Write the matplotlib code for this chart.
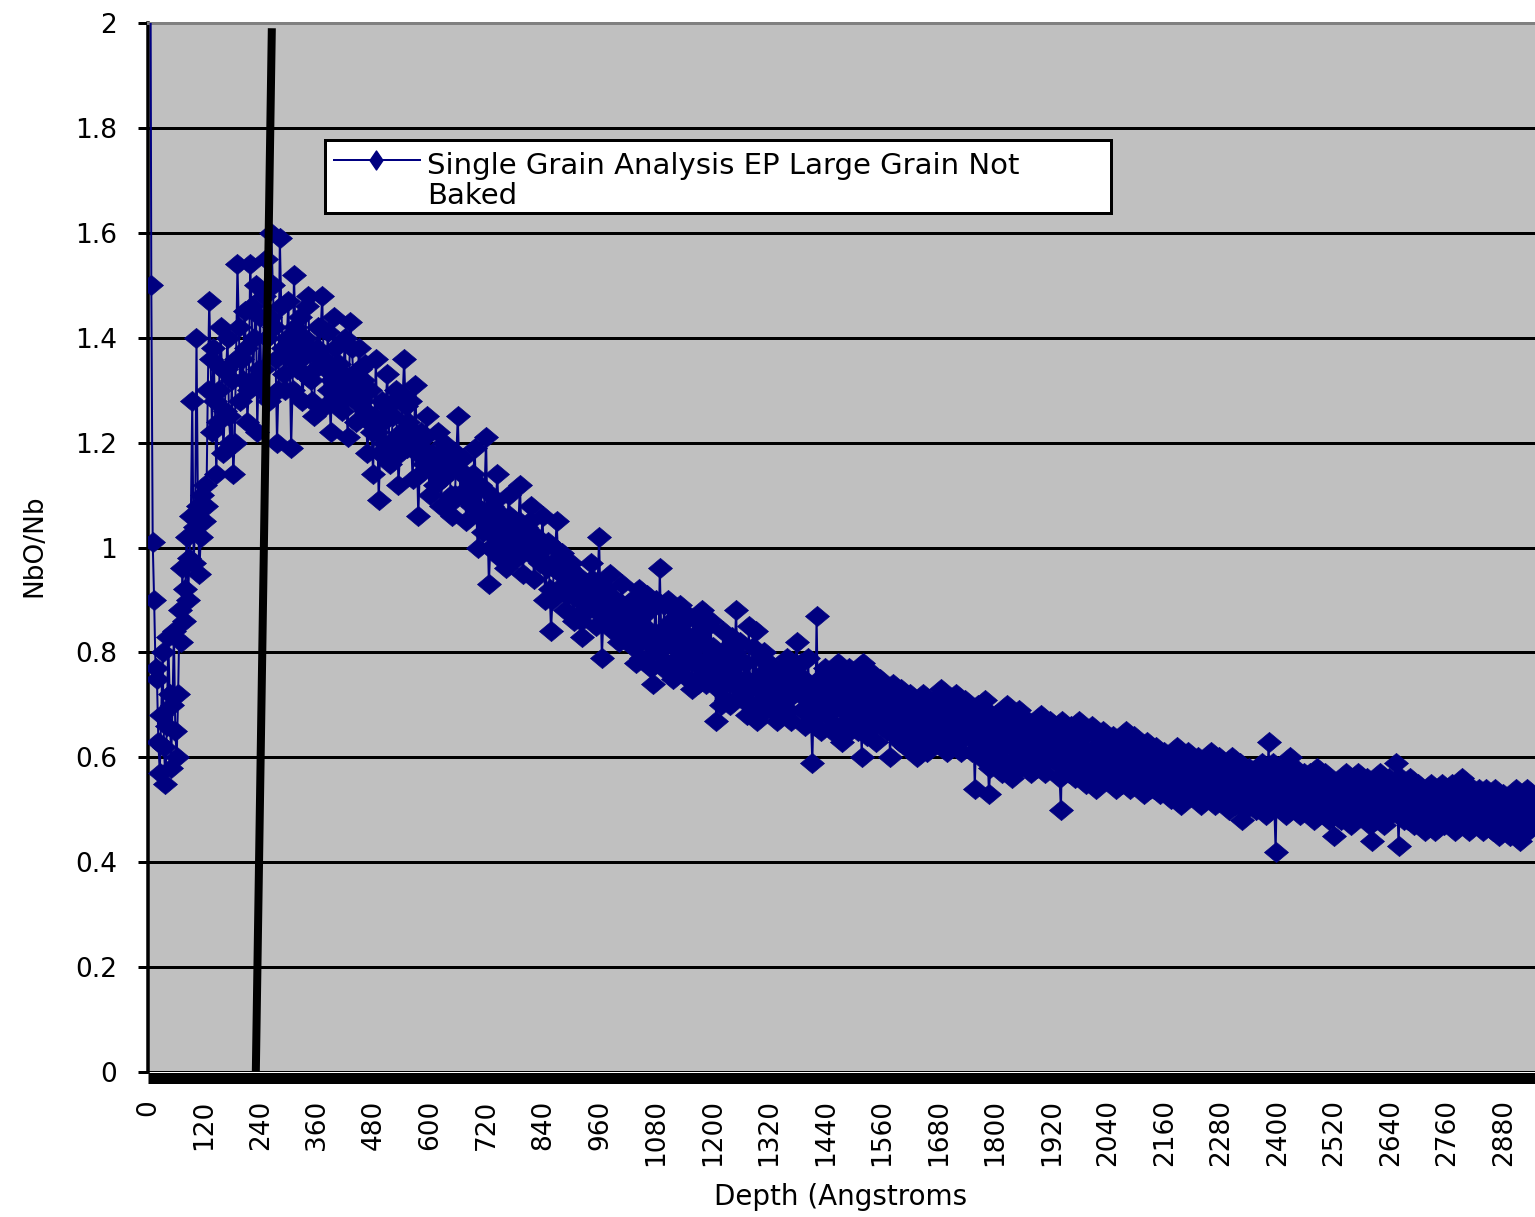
import numpy as np
import matplotlib
matplotlib.use("Agg")
import matplotlib.pyplot as plt
from matplotlib.lines import Line2D
from matplotlib.patches import Rectangle

# NbO/Nb ratio sampled every 3 Angstroms of sputter depth (20 values per row = 60 A)
depth_start = 4.0
depth_step = 3.0
ratio = [
    2.60, 1.50, 1.01, 0.90, 0.77, 0.75, 0.63, 0.57, 0.68, 0.80, 0.62, 0.55, 0.66, 0.83, 0.72, 0.58, 0.70, 0.84, 0.65, 0.60,
    0.72, 0.88, 0.82, 0.96, 0.86, 0.92, 1.02, 0.90, 0.98, 1.06, 1.28, 0.97, 1.04, 1.40, 1.08, 0.95, 1.02, 1.10, 1.05, 1.12,
    1.08, 1.30, 1.47, 1.36, 1.22, 1.38, 1.28, 1.14, 1.24, 1.30, 1.42, 1.34, 1.18, 1.26, 1.34, 1.40, 1.25, 1.20, 1.32, 1.14,
    1.20, 1.36, 1.54, 1.42, 1.28, 1.36, 1.32, 1.45, 1.38, 1.24, 1.30, 1.54, 1.46, 1.32, 1.40, 1.50, 1.22, 1.34, 1.44, 1.30,
    1.34, 1.48, 1.55, 1.40, 1.28, 1.44, 1.60, 1.50, 1.42, 1.36, 1.20, 1.30, 1.59, 1.46, 1.38, 1.33, 1.30, 1.40, 1.47, 1.36,
    1.19, 1.30, 1.52, 1.42, 1.34, 1.38, 1.44, 1.36, 1.28, 1.33, 1.40, 1.46, 1.48, 1.38, 1.32, 1.28, 1.25, 1.34, 1.38, 1.42,
    1.36, 1.42, 1.48, 1.36, 1.27, 1.34, 1.41, 1.30, 1.22, 1.32, 1.44, 1.38, 1.31, 1.28, 1.35, 1.30, 1.26, 1.33, 1.40, 1.30,
    1.21, 1.32, 1.43, 1.38, 1.33, 1.28, 1.24, 1.31, 1.38, 1.34, 1.28, 1.32, 1.35, 1.26, 1.18, 1.24, 1.30, 1.22, 1.14, 1.25,
    1.36, 1.22, 1.09, 1.18, 1.28, 1.24, 1.20, 1.27, 1.33, 1.25, 1.16, 1.20, 1.25, 1.28, 1.30, 1.21, 1.12, 1.18, 1.22, 1.29,
    1.36, 1.27, 1.19, 1.24, 1.28, 1.20, 1.13, 1.22, 1.31, 1.18, 1.06, 1.14, 1.22, 1.19, 1.16, 1.21, 1.25, 1.17, 1.10, 1.15,
    1.18, 1.15, 1.12, 1.17, 1.22, 1.14, 1.08, 1.13, 1.20, 1.16, 1.14, 1.19, 1.16, 1.10, 1.06, 1.09, 1.10, 1.18, 1.25, 1.15,
    1.10, 1.14, 1.17, 1.11, 1.05, 1.09, 1.13, 1.10, 1.08, 1.14, 1.19, 1.08, 1.00, 1.06, 1.12, 1.07, 1.03, 1.11, 1.21, 1.05,
    0.93, 1.00, 1.08, 1.05, 1.02, 1.09, 1.14, 1.05, 0.98, 1.03, 1.06, 1.00, 0.96, 1.04, 1.10, 1.06, 1.01, 0.99, 1.04, 1.01,
    0.98, 1.05, 1.12, 1.03, 0.95, 1.00, 1.04, 1.02, 1.00, 1.05, 1.08, 1.00, 0.94, 0.98, 1.02, 0.99, 0.97, 1.01, 1.06, 0.97,
    0.90, 0.96, 1.01, 0.92, 0.84, 0.90, 0.96, 1.00, 1.05, 0.98, 0.92, 0.95, 0.99, 0.93, 0.88, 0.91, 0.94, 0.96, 0.97, 0.91,
    0.86, 0.91, 0.95, 0.92, 0.90, 0.86, 0.83, 0.88, 0.93, 0.90, 0.88, 0.92, 0.97, 0.94, 0.91, 0.88, 0.85, 0.93, 1.02, 0.90,
    0.79, 0.86, 0.92, 0.89, 0.87, 0.91, 0.95, 0.89, 0.84, 0.87, 0.90, 0.86, 0.82, 0.88, 0.93, 0.89, 0.86, 0.88, 0.89, 0.84,
    0.84, 0.90, 0.81, 0.87, 0.78, 0.86, 0.92, 0.82, 0.79, 0.89, 0.85, 0.78, 0.91, 0.82, 0.88, 0.77, 0.74, 0.83, 0.90, 0.80,
    0.80, 0.96, 0.84, 0.77, 0.89, 0.82, 0.78, 0.90, 0.83, 0.86, 0.75, 0.81, 0.88, 0.79, 0.85, 0.89, 0.77, 0.83, 0.86, 0.80,
    0.83, 0.75, 0.87, 0.80, 0.73, 0.82, 0.78, 0.86, 0.74, 0.84, 0.78, 0.88, 0.76, 0.82, 0.74, 0.85, 0.79, 0.86, 0.77, 0.81,
    0.76, 0.67, 0.73, 0.79, 0.70, 0.78, 0.84, 0.74, 0.71, 0.81, 0.77, 0.70, 0.83, 0.74, 0.80, 0.88, 0.78, 0.75, 0.82, 0.72,
    0.71, 0.78, 0.75, 0.68, 0.85, 0.73, 0.70, 0.81, 0.74, 0.84, 0.67, 0.73, 0.79, 0.71, 0.76, 0.80, 0.69, 0.75, 0.78, 0.72,
    0.75, 0.69, 0.77, 0.73, 0.67, 0.74, 0.71, 0.77, 0.68, 0.76, 0.71, 0.79, 0.69, 0.74, 0.67, 0.76, 0.72, 0.78, 0.82, 0.73,
    0.72, 0.78, 0.69, 0.75, 0.66, 0.73, 0.79, 0.70, 0.67, 0.59, 0.72, 0.66, 0.87, 0.69, 0.75, 0.65, 0.74, 0.71, 0.77, 0.68,
    0.68, 0.75, 0.72, 0.65, 0.77, 0.70, 0.66, 0.78, 0.71, 0.74, 0.63, 0.69, 0.76, 0.67, 0.73, 0.77, 0.65, 0.71, 0.74, 0.68,
    0.72, 0.65, 0.75, 0.69, 0.60, 0.78, 0.67, 0.74, 0.64, 0.73, 0.68, 0.76, 0.66, 0.71, 0.63, 0.73, 0.68, 0.75, 0.66, 0.70,
    0.67, 0.72, 0.65, 0.70, 0.60, 0.69, 0.74, 0.66, 0.64, 0.71, 0.68, 0.63, 0.73, 0.65, 0.70, 0.62, 0.69, 0.67, 0.72, 0.64,
    0.64, 0.70, 0.68, 0.60, 0.71, 0.66, 0.63, 0.72, 0.67, 0.69, 0.61, 0.65, 0.70, 0.64, 0.68, 0.71, 0.63, 0.67, 0.69, 0.65,
    0.73, 0.62, 0.71, 0.66, 0.61, 0.67, 0.64, 0.70, 0.62, 0.69, 0.65, 0.72, 0.63, 0.68, 0.61, 0.70, 0.65, 0.71, 0.64, 0.67,
    0.64, 0.69, 0.61, 0.66, 0.54, 0.65, 0.70, 0.62, 0.60, 0.67, 0.64, 0.71, 0.69, 0.62, 0.53, 0.58, 0.65, 0.63, 0.68, 0.60,
    0.60, 0.67, 0.64, 0.57, 0.69, 0.62, 0.59, 0.70, 0.63, 0.66, 0.56, 0.62, 0.68, 0.60, 0.65, 0.69, 0.58, 0.64, 0.67, 0.61,
    0.64, 0.58, 0.67, 0.62, 0.57, 0.63, 0.60, 0.66, 0.58, 0.65, 0.61, 0.68, 0.59, 0.64, 0.57, 0.66, 0.61, 0.67, 0.60, 0.63,
    0.61, 0.66, 0.59, 0.63, 0.56, 0.50, 0.67, 0.60, 0.57, 0.65, 0.62, 0.57, 0.66, 0.59, 0.64, 0.56, 0.63, 0.60, 0.67, 0.58,
    0.58, 0.64, 0.61, 0.55, 0.65, 0.59, 0.56, 0.66, 0.60, 0.62, 0.54, 0.59, 0.64, 0.57, 0.62, 0.65, 0.56, 0.61, 0.63, 0.58,
    0.61, 0.55, 0.64, 0.59, 0.54, 0.60, 0.57, 0.63, 0.55, 0.62, 0.58, 0.65, 0.56, 0.61, 0.54, 0.63, 0.58, 0.64, 0.57, 0.60,
    0.58, 0.62, 0.55, 0.60, 0.53, 0.59, 0.63, 0.56, 0.54, 0.61, 0.58, 0.54, 0.62, 0.56, 0.60, 0.53, 0.59, 0.57, 0.61, 0.55,
    0.54, 0.60, 0.58, 0.52, 0.61, 0.56, 0.53, 0.62, 0.57, 0.59, 0.51, 0.55, 0.60, 0.54, 0.58, 0.61, 0.53, 0.57, 0.59, 0.55,
    0.58, 0.52, 0.60, 0.56, 0.51, 0.57, 0.54, 0.59, 0.52, 0.58, 0.54, 0.61, 0.53, 0.57, 0.51, 0.59, 0.55, 0.60, 0.53, 0.56,
    0.55, 0.59, 0.52, 0.57, 0.50, 0.56, 0.60, 0.53, 0.51, 0.58, 0.55, 0.51, 0.59, 0.48, 0.57, 0.50, 0.56, 0.54, 0.58, 0.52,
    0.52, 0.57, 0.55, 0.50, 0.58, 0.54, 0.51, 0.59, 0.54, 0.56, 0.49, 0.53, 0.63, 0.52, 0.56, 0.59, 0.51, 0.42, 0.57, 0.53,
    0.55, 0.50, 0.58, 0.53, 0.49, 0.54, 0.52, 0.60, 0.50, 0.56, 0.52, 0.58, 0.51, 0.55, 0.49, 0.56, 0.53, 0.57, 0.51, 0.54,
    0.53, 0.57, 0.50, 0.55, 0.48, 0.54, 0.58, 0.51, 0.49, 0.56, 0.53, 0.49, 0.57, 0.51, 0.55, 0.48, 0.54, 0.52, 0.45, 0.50,
    0.50, 0.55, 0.53, 0.48, 0.56, 0.52, 0.49, 0.57, 0.52, 0.54, 0.47, 0.51, 0.56, 0.50, 0.54, 0.57, 0.49, 0.53, 0.55, 0.51,
    0.54, 0.48, 0.56, 0.52, 0.47, 0.44, 0.50, 0.55, 0.48, 0.54, 0.50, 0.57, 0.49, 0.53, 0.47, 0.55, 0.51, 0.56, 0.49, 0.52,
    0.51, 0.55, 0.59, 0.53, 0.43, 0.52, 0.56, 0.50, 0.48, 0.54, 0.52, 0.48, 0.56, 0.50, 0.54, 0.47, 0.53, 0.51, 0.55, 0.49,
    0.48, 0.53, 0.51, 0.46, 0.54, 0.50, 0.47, 0.55, 0.50, 0.52, 0.46, 0.49, 0.54, 0.48, 0.52, 0.55, 0.47, 0.51, 0.53, 0.49,
    0.52, 0.47, 0.55, 0.50, 0.46, 0.51, 0.49, 0.54, 0.47, 0.56, 0.49, 0.55, 0.48, 0.52, 0.46, 0.53, 0.50, 0.54, 0.48, 0.51,
    0.50, 0.54, 0.48, 0.52, 0.46, 0.51, 0.54, 0.49, 0.47, 0.53, 0.50, 0.46, 0.54, 0.48, 0.52, 0.45, 0.51, 0.49, 0.53, 0.47,
    0.47, 0.52, 0.50, 0.45, 0.53, 0.49, 0.46, 0.54, 0.49, 0.51, 0.44, 0.48, 0.53, 0.47, 0.51, 0.54, 0.46, 0.50, 0.52, 0.48,
    0.50, 0.47,
]
depth = depth_start + np.arange(len(ratio)) * depth_step

# hand-drawn reference line across the oxide peak
ref_line_depth = [229, 263]
ref_line_ratio = [0.0, 1.99]

x_ticks = list(range(0, 2881, 120))
y_ticks = [0, 0.2, 0.4, 0.6, 0.8, 1.0, 1.2, 1.4, 1.6, 1.8, 2.0]
y_tick_labels = ["0", "0.2", "0.4", "0.6", "0.8", "1", "1.2", "1.4", "1.6", "1.8", "2"]

series_label = "Single Grain Analysis EP Large Grain Not\nBaked"
x_label = "Depth (Angstroms"
y_label = "NbO/Nb"

NAVY = "#000080"
W, H = 1535, 1217
PX = 72.0 / 100.0  # points per pixel at 100 dpi

plt.rcParams["font.family"] = ["DejaVu Sans"]
fig = plt.figure(figsize=(W / 100, H / 100), dpi=100)
fig.patch.set_facecolor("white")

left_px, right_px, top_px, bottom_px = 148, 1535, 23, 1072
ax = fig.add_axes([left_px / W, 1 - bottom_px / H,
                   (right_px - left_px) / W, (bottom_px - top_px) / H])
ax.set_facecolor("#C0C0C0")

diamond = [(-1.0, 0.0), (0.0, 0.84), (1.0, 0.0), (0.0, -0.84), (-1.0, 0.0)]
ax.plot(depth, ratio, color=NAVY, lw=2 * PX, marker=diamond, ms=24 * PX,
        mfc=NAVY, mec=NAVY, mew=0.5, zorder=3)
ax.plot(ref_line_depth, ref_line_ratio, color="black", lw=8 * PX,
        solid_capstyle="butt", zorder=4)

ax.set_xlim(0, (right_px - left_px) / 56.5 * 120)
ax.set_ylim(0, 2)

ax.set_xticks(x_ticks)
ax.set_xticklabels([str(v) for v in x_ticks])
ax.set_yticks(y_ticks)
ax.set_yticklabels(y_tick_labels)
ax.tick_params(axis="x", length=0, pad=22 * PX, labelsize=19, labelrotation=90)
ax.tick_params(axis="y", direction="out", length=10 * PX, width=3 * PX,
               pad=21 * PX, labelsize=19, color="black")

ax.yaxis.grid(True, color="black", lw=3 * PX)
ax.xaxis.grid(False)
ax.set_axisbelow(True)

ax.spines["right"].set_visible(False)
ax.spines["top"].set_color("#808080")
ax.spines["top"].set_linewidth(3 * PX)
ax.spines["left"].set_color("black")
ax.spines["left"].set_linewidth(3.5 * PX)
ax.spines["bottom"].set_color("black")
ax.spines["bottom"].set_linewidth(11 * PX)
ax.spines["bottom"].set_position(("outward", 5.5 * PX))
ax.spines["bottom"].set_capstyle("butt")

ax.set_xlabel(x_label, fontsize=20)
ax.xaxis.set_label_coords((841 - left_px) / (right_px - left_px),
                          (bottom_px - 1205) / (bottom_px - top_px))
ax.xaxis.label.set_va("baseline")
ax.set_ylabel(y_label, fontsize=19)
ax.yaxis.set_label_coords((41 - left_px) / (right_px - left_px),
                          (bottom_px - 546) / (bottom_px - top_px))
ax.yaxis.label.set_va("baseline")

# legend box
def fx(px):
    return px / W

def fy(py):
    return 1 - py / H

fig.add_artist(Rectangle((fx(325), fy(213)), fx(1111) - fx(325), fy(140) - fy(213),
                         transform=fig.transFigure, fc="white", ec="black",
                         lw=3 * PX, zorder=10))
fig.add_artist(Line2D([fx(334), fx(420)], [fy(160), fy(160)],
                      transform=fig.transFigure, color=NAVY, lw=2 * PX, zorder=11))
legend_diamond = [(-0.68, 0.0), (0.0, 1.0), (0.68, 0.0), (0.0, -1.0), (-0.68, 0.0)]
fig.add_artist(Line2D([fx(376)], [fy(160)], transform=fig.transFigure,
                      marker=legend_diamond, ms=19 * PX, mfc=NAVY, mec=NAVY,
                      lw=0, zorder=12))
fig.text(fx(427), fy(204), series_label, fontsize=21, va="baseline", ha="left",
         linespacing=1.1, zorder=12)

fig.savefig("out.png", dpi=100, facecolor="white")
